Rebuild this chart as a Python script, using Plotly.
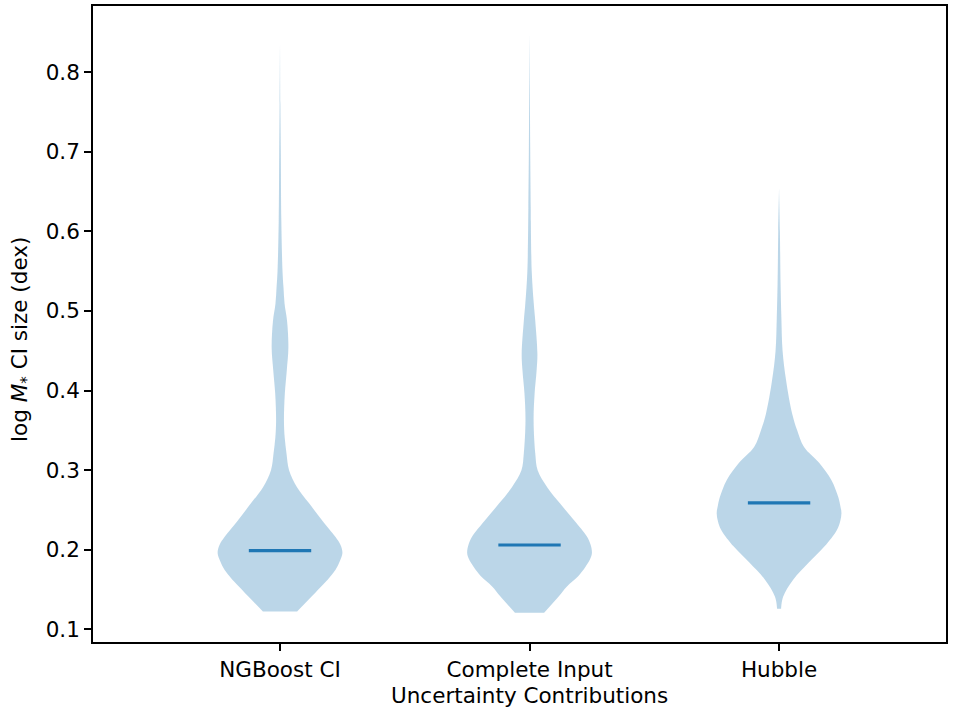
import plotly.graph_objects as go

# ---- data ----
categories = ["NGBoost CI", "Complete Input", "Hubble"]
positions = [1, 2, 3]
medians = [0.199, 0.206, 0.259]

# density profiles (y in dex, density normalised to the widest point = 1)
ngb_y = [0.1225, 0.1375, 0.154, 0.165, 0.175, 0.186, 0.196, 0.206, 0.216, 0.2375,
         0.259, 0.279, 0.300, 0.321, 0.341, 0.3625, 0.396, 0.425, 0.454, 0.4875,
         0.509, 0.529, 0.55, 0.6125, 0.696, 0.76, 0.835]
ngb_d = [0.274, 0.46, 0.66, 0.79, 0.89, 0.96, 1.0, 0.97, 0.89, 0.67,
         0.46, 0.27, 0.145, 0.104, 0.075, 0.063, 0.077, 0.108, 0.134, 0.113,
         0.073, 0.056, 0.04, 0.021, 0.013, 0.006, 0.0]

cin_y = [0.121, 0.1417, 0.154, 0.1667, 0.179, 0.188, 0.196, 0.206, 0.2167, 0.2375,
         0.258, 0.279, 0.300, 0.321, 0.3625, 0.396, 0.425, 0.446, 0.4875, 0.509,
         0.55, 0.6125, 0.629, 0.70, 0.78, 0.848]
cin_d = [0.234, 0.47, 0.60, 0.78, 0.90, 0.97, 1.0, 0.98, 0.92, 0.71,
         0.49, 0.28, 0.13, 0.092, 0.065, 0.081, 0.113, 0.126, 0.092, 0.068,
         0.035, 0.021, 0.019, 0.011, 0.005, 0.0]

hub_y = [0.126, 0.141, 0.1625, 0.184, 0.204, 0.225, 0.236, 0.246, 0.256, 0.266,
         0.2875, 0.309, 0.329, 0.35, 0.371, 0.4125, 0.45, 0.491, 0.534, 0.60, 0.654]
hub_d = [0.032, 0.065, 0.226, 0.476, 0.726, 0.927, 0.98, 1.0, 0.98, 0.95,
         0.84, 0.645, 0.40, 0.29, 0.21, 0.113, 0.056, 0.037, 0.024, 0.013, 0.0]

profiles = [(ngb_y, ngb_d), (cin_y, cin_d), (hub_y, hub_d)]

HALF_WIDTH = 0.25      # matplotlib widths=0.5
MEDIAN_HALF = 0.125
FILL = "rgba(31,119,180,0.3)"
LINE = "#1f77b4"
FONT = "DejaVu Sans"
FS = 21.5

fig = go.Figure()
for pos, (ys, ds) in zip(positions, profiles):
    xr = [pos + d * HALF_WIDTH for d in ds]
    xl = [pos - d * HALF_WIDTH for d in ds]
    fig.add_trace(go.Scatter(
        x=xr + xl[::-1], y=ys + ys[::-1],
        mode="lines", fill="toself", fillcolor=FILL,
        line=dict(width=0, color=FILL, shape="spline", smoothing=1.0),
        hoverinfo="skip", showlegend=False))

for pos, m in zip(positions, medians):
    fig.add_trace(go.Scatter(
        x=[pos - MEDIAN_HALF, pos + MEDIAN_HALF], y=[m, m],
        mode="lines", line=dict(color=LINE, width=3.1),
        hoverinfo="skip", showlegend=False))

axis_common = dict(showline=True, linecolor="black", linewidth=1.6, mirror=True,
                   ticks="outside", ticklen=7, tickwidth=1.6, tickcolor="black",
                   showgrid=False, zeroline=False,
                   tickfont=dict(family=FONT, size=FS, color="black"))

fig.update_layout(
    width=958, height=711,
    margin=dict(l=93, r=12, t=4, b=69),
    plot_bgcolor="white", paper_bgcolor="white",
    font=dict(family=FONT, size=FS, color="black"),
    xaxis=dict(range=[0.2505, 3.669], tickvals=positions, ticktext=categories,
               **axis_common),
    yaxis=dict(range=[0.0842, 0.883], tickvals=[0.1, 0.2, 0.3, 0.4, 0.5, 0.6, 0.7, 0.8],
               tickformat=".1f", **axis_common),
    annotations=[
        dict(text="log <i>M</i><sub>*</sub> CI size (dex)",
             xref="paper", yref="paper", x=0, y=0.475,
             xanchor="center", yanchor="middle", xshift=-71, textangle=-90,
             showarrow=False, font=dict(family=FONT, size=FS, color="black")),
        dict(text="Uncertainty Contributions",
             xref="x", yref="paper", x=positions[1], y=0,
             xanchor="center", yanchor="middle", yshift=-53,
             showarrow=False, font=dict(family=FONT, size=FS, color="black")),
    ],
)

fig.write_html("out.html")
